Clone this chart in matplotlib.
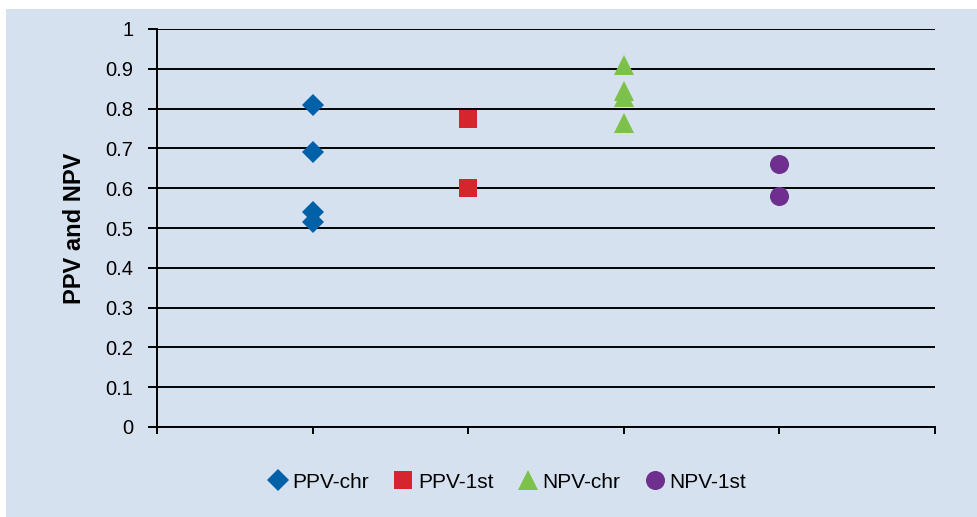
import matplotlib.pyplot as plt
from matplotlib.patches import Rectangle

plt.rcParams['font.family'] = ['Liberation Sans', 'DejaVu Sans']

# category positions on the x axis (0..5 scale, unlabeled)
series_names = ["PPV-chr", "PPV-1st", "NPV-chr", "NPV-1st"]
series_x = [1, 2, 3, 4]
ppv_chr = [0.81, 0.69, 0.54, 0.515]
ppv_1st = [0.775, 0.60]
npv_chr = [0.91, 0.845, 0.83, 0.765]
npv_1st = [0.66, 0.58]
y_ticks = [0, 0.1, 0.2, 0.3, 0.4, 0.5, 0.6, 0.7, 0.8, 0.9, 1]
y_tick_labels = ["0", "0.1", "0.2", "0.3", "0.4", "0.5", "0.6", "0.7", "0.8", "0.9", "1"]

values = [ppv_chr, ppv_1st, npv_chr, npv_1st]
markers = ["D", "s", "^", "o"]
sizes = [11.2, 13, 14, 13.7]
colors = ["#0061a9", "#d6262d", "#7cc14a", "#6f2f8f"]
bg = "#d5e1ef"

fig = plt.figure(figsize=(9.77, 5.17), dpi=100)
fig.patch.set_facecolor("white")
fig.add_artist(Rectangle((6 / 977, 0), 1, 1 - 9 / 517, transform=fig.transFigure,
                         facecolor=bg, edgecolor="none", zorder=0))

ax = fig.add_axes([157 / 977, 1 - 427 / 517, (935 - 157) / 977, (427 - 29) / 517])
ax.set_facecolor("none")

for name, x, vals, m, s, c in zip(series_names, series_x, values, markers, sizes, colors):
    ax.plot([x] * len(vals), vals, linestyle="none", marker=m, markersize=s,
            color=c, markeredgewidth=0, label=name, zorder=3, clip_on=False)

ax.set_xlim(0, 5)
ax.set_ylim(0, 1)
ax.set_yticks(y_ticks)
ax.set_yticklabels(y_tick_labels, fontsize=14.5)
ax.set_xticks([0, 1, 2, 3, 4, 5])
ax.set_xticklabels([])
ax.yaxis.grid(True, color="black", linewidth=1.4)
ax.set_axisbelow(True)
ax.tick_params(axis="y", direction="out", length=6.5, width=1.4, pad=10.5)
ax.tick_params(axis="x", direction="out", length=5, width=1.4)
for side in ["top", "right"]:
    ax.spines[side].set_visible(False)
ax.spines["left"].set_linewidth(1.4)
ax.spines["bottom"].set_linewidth(1.4)

ax.set_ylabel("PPV and NPV", fontsize=17, fontweight="bold")
ax.yaxis.set_label_coords((86 - 157) / 778, 0.5)

fig.legend(loc="center", bbox_to_anchor=(505 / 977, 1 - 482 / 517), ncol=4,
           frameon=False, fontsize=15, handletextpad=0.05, columnspacing=1.0,
           markerscale=1.0, handlelength=1.3)

fig.savefig("out.png", dpi=100)
